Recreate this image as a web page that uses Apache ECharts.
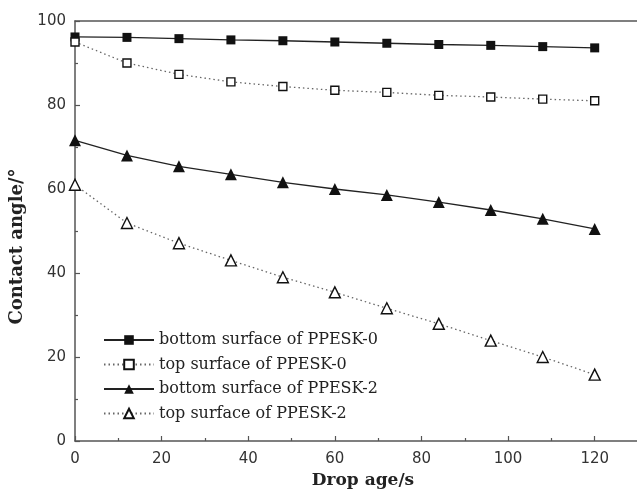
<!DOCTYPE html>
<html>
<head>
<meta charset="utf-8">
<script src="https://cdn.jsdelivr.net/npm/echarts@6/dist/echarts.min.js"></script>
<style>
  html, body { margin: 0; padding: 0; background: #fff; }
  #chart { width: 637px; height: 489px; }
</style>
</head>
<body>
<div id="chart"></div>
<script>
// Drop age (s) at which the contact angle was measured
const dropAge = [0, 12, 24, 36, 48, 60, 72, 84, 96, 108, 120];

// Contact angle (°) for each surface
const bottomPPESK0 = [96.2, 96.1, 95.8, 95.5, 95.3, 95.0, 94.7, 94.4, 94.2, 93.9, 93.6];
const topPPESK0    = [95.0, 90.0, 87.3, 85.5, 84.4, 83.5, 83.0, 82.3, 81.9, 81.4, 81.0];
const bottomPPESK2 = [71.6, 68.0, 65.4, 63.5, 61.6, 60.0, 58.6, 56.9, 55.0, 52.9, 50.5];
const topPPESK2    = [61.0, 51.9, 47.1, 43.0, 39.0, 35.4, 31.6, 27.9, 23.9, 20.0, 15.8];

const seriesNames = [
  'bottom surface of PPESK-0',
  'top surface of PPESK-0',
  'bottom surface of PPESK-2',
  'top surface of PPESK-2'
];

const pairs = (ys) => dropAge.map((x, i) => [x, ys[i]]);

const axisColor = '#555';
const tickFont = { fontFamily: 'DejaVu Sans', fontSize: 15, color: '#333' };

const chart = echarts.init(document.getElementById('chart'));

function lineSeries(name, ys, symbol, size, filled, dotted) {
  return {
    name: name,
    type: 'line',
    data: pairs(ys),
    symbol: symbol,
    symbolSize: size,
    showAllSymbol: true,
    clip: false,
    lineStyle: {
      color: dotted ? '#666' : '#222',
      width: 1.3,
      type: dotted ? [1.5, 3] : 'solid'
    },
    itemStyle: {
      color: filled ? '#111' : '#fff',
      borderColor: '#111',
      borderWidth: filled ? 0 : 1.4
    },
    emphasis: { disabled: true },
    animation: false
  };
}

chart.setOption({
  backgroundColor: '#fff',
  animation: false,
  grid: { left: 75, right: -1, top: 21, bottom: 48, outerBoundsMode: 'none', containLabel: false },
  legend: {
    orient: 'vertical',
    left: 98,
    top: 327,
    itemWidth: 50,
    itemHeight: 12,
    itemGap: 8.5,
    data: seriesNames,
    textStyle: { fontFamily: 'DejaVu Serif', fontSize: 16, color: '#222' },
    selectedMode: false
  },
  xAxis: [{
    type: 'value',
    min: 0,
    max: 130,
    interval: 20,
    name: 'Drop age/s',
    nameLocation: 'middle',
    nameGap: 27,
    nameTextStyle: { fontFamily: 'DejaVu Serif', fontWeight: 'bold', fontSize: 17, color: '#222', padding: [0, 0, 0, 13] },
    axisLine: { show: true, lineStyle: { color: axisColor, width: 1.5 } },
    axisTick: { show: true, inside: true, length: 5, lineStyle: { color: axisColor, width: 1.2 } },
    minorTick: { show: true, splitNumber: 2, length: 3, lineStyle: { color: axisColor, width: 1.2 } },
    axisLabel: Object.assign({ margin: 11, showMaxLabel: false }, tickFont),
    splitLine: { show: false }
  }, {
    type: 'value',
    position: 'top',
    min: 0,
    max: 130,
    axisLine: { show: true, onZero: false, lineStyle: { color: axisColor, width: 1.5 } },
    axisTick: { show: false },
    axisLabel: { show: false },
    splitLine: { show: false }
  }],
  yAxis: {
    type: 'value',
    min: 0,
    max: 100,
    interval: 20,
    name: 'Contact angle/°',
    nameLocation: 'middle',
    nameGap: 40,
    nameTextStyle: { fontFamily: 'DejaVu Serif', fontWeight: 'bold', fontSize: 18, color: '#222', padding: [0, 31, 0, 0] },
    axisLine: { show: true, lineStyle: { color: axisColor, width: 1.5 } },
    axisTick: { show: true, inside: true, length: 5, lineStyle: { color: axisColor, width: 1.2 } },
    minorTick: { show: true, splitNumber: 2, length: 3, lineStyle: { color: axisColor, width: 1.2 } },
    axisLabel: Object.assign({ margin: 9 }, tickFont),
    splitLine: { show: false }
  },
  series: [
    lineSeries(seriesNames[0], bottomPPESK0, 'rect', 9, true, false),
    lineSeries(seriesNames[1], topPPESK0, 'rect', 8, false, true),
    lineSeries(seriesNames[2], bottomPPESK2, 'triangle', 12, true, false),
    lineSeries(seriesNames[3], topPPESK2, 'triangle', 11, false, true)
  ]
});
</script>
</body>
</html>
